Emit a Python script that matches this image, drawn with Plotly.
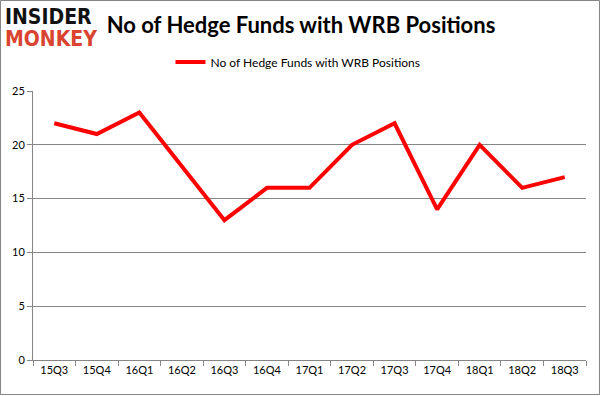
import plotly.graph_objects as go

quarters = ["15Q3", "15Q4", "16Q1", "16Q2", "16Q3", "16Q4", "17Q1",
            "17Q2", "17Q3", "17Q4", "18Q1", "18Q2", "18Q3"]
funds = [22, 21, 23, 18, 13, 16, 16, 20, 22, 14, 20, 16, 17]
series_name = "No of Hedge Funds with WRB Positions"
title_text = "No of Hedge Funds with WRB Positions"
y_ticks = [0, 5, 10, 15, 20, 25]

fig = go.Figure()
fig.add_trace(go.Scatter(
    x=quarters, y=funds, mode="lines", name=series_name,
    line=dict(color="#ff0000", width=4),
))

W, H = 601, 396
L, R, T, B = 33, 586, 91, 360

fig.update_layout(
    width=W, height=H,
    margin=dict(l=L, r=W - R, t=T, b=H - B, autoexpand=False),
    paper_bgcolor="white", plot_bgcolor="white",
    font=dict(family="Lato, 'Open Sans', sans-serif", size=11, color="#000000"),
    title=dict(text="<b>" + title_text + "</b>", x=301 / W, xanchor="center",
               y=1 - 25 / H, yanchor="middle",
               font=dict(size=22, family="Lato, 'Open Sans', sans-serif", color="#000000")),
    showlegend=True,
    legend=dict(orientation="h", x=(298 - L) / (R - L), xanchor="center",
                y=1 + 29 / (B - T),
                yanchor="middle", font=dict(size=12), itemwidth=30,
                bgcolor="rgba(0,0,0,0)"),
    xaxis=dict(type="category", showgrid=False, showline=True, linecolor="#868686",
               linewidth=1, ticks="outside", tickson="boundaries", ticklen=5,
               tickcolor="#868686", tickfont=dict(size=11), range=[-0.5, 12.5]),
    yaxis=dict(range=[0, 25], tickvals=y_ticks, showgrid=True, gridcolor="#868686",
               gridwidth=1, showline=True, linecolor="#868686", linewidth=1,
               ticks="outside", ticklen=5, tickcolor="#868686",
               tickfont=dict(size=11), zeroline=False),
)

# outer border
fig.add_shape(type="rect", xref="paper", yref="paper",
              x0=(0.5 - L) / (R - L), x1=(W - 1.5 - L) / (R - L),
              y0=-(H - 1.5 - B) / (B - T), y1=1 + (T - 0.5) / (B - T),
              line=dict(color="#868686", width=1), fillcolor="rgba(0,0,0,0)", layer="below")

# logo
fig.add_annotation(text="<b>INSIDER</b>", xref="paper", yref="paper",
                   x=(4 - L) / (R - L), xanchor="left",
                   y=1 + (T - 17) / (B - T), yanchor="middle", showarrow=False,
                   height=18, borderpad=0,
                   font=dict(size=21, family="'DejaVu Sans Condensed', 'DejaVu Sans', sans-serif",
                             color="#111111"))
fig.add_annotation(text="<b>MONKEY</b>", xref="paper", yref="paper",
                   x=(4 - L) / (R - L), xanchor="left",
                   y=1 + (T - 39) / (B - T), yanchor="middle", showarrow=False,
                   height=18, borderpad=0,
                   font=dict(size=21, family="'DejaVu Sans Condensed', 'DejaVu Sans', sans-serif",
                             color="#d9432f"))

fig.write_html("out.html", post_script="document.body.style.margin='0px';",
               config={"displayModeBar": False})
